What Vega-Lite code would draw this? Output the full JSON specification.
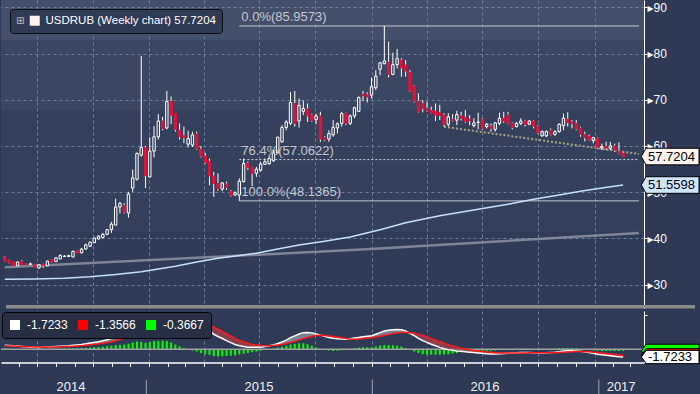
{
"$schema":"https://vega.github.io/schema/vega-lite/v6.json",
"background":"#2e3955",
"padding":0,
"spacing":0,
"config":{"view":{"stroke":null},"legend":{"labelFont":"Liberation Sans","titleFont":"DejaVu Sans"},"axis":{"labelFont":"Liberation Sans, DejaVu Sans"}},
"datasets":{
"w":[
{"date":"2014-05-09","o":36.0,"h":36.2,"l":34.9,"c":35.0,"m":0.89,"s":0.74,"hi":0.15},
{"date":"2014-05-16","o":35.3,"h":35.4,"l":34.6,"c":34.7,"m":0.82,"s":0.72,"hi":0.10},
{"date":"2014-05-23","o":34.9,"h":35.0,"l":34.0,"c":34.1,"m":0.75,"s":0.69,"hi":0.06},
{"date":"2014-05-30","o":34.1,"h":35.0,"l":34.0,"c":34.9,"m":0.68,"s":0.65,"hi":0.03},
{"date":"2014-06-06","o":35.0,"h":35.3,"l":34.3,"c":34.4,"m":0.60,"s":0.60,"hi":0.00},
{"date":"2014-06-13","o":34.5,"h":34.6,"l":34.2,"c":34.3,"m":0.52,"s":0.55,"hi":-0.03},
{"date":"2014-06-20","o":34.4,"h":34.8,"l":34.3,"c":34.5,"m":0.45,"s":0.51,"hi":-0.06},
{"date":"2014-06-27","o":34.4,"h":34.5,"l":33.6,"c":33.7,"m":0.40,"s":0.48,"hi":-0.08},
{"date":"2014-07-04","o":33.6,"h":34.4,"l":33.5,"c":34.3,"m":0.38,"s":0.46,"hi":-0.08},
{"date":"2014-07-11","o":34.4,"h":34.5,"l":33.6,"c":34.1,"m":0.40,"s":0.45,"hi":-0.05},
{"date":"2014-07-18","o":34.1,"h":35.2,"l":34.0,"c":35.1,"m":0.45,"s":0.45,"hi":0.00},
{"date":"2014-07-25","o":35.4,"h":35.5,"l":34.8,"c":34.9,"m":0.52,"s":0.47,"hi":0.05},
{"date":"2014-08-01","o":35.0,"h":35.9,"l":34.9,"c":35.8,"m":0.58,"s":0.50,"hi":0.08},
{"date":"2014-08-08","o":35.6,"h":36.6,"l":35.5,"c":36.3,"m":0.64,"s":0.53,"hi":0.11},
{"date":"2014-08-15","o":36.1,"h":36.4,"l":36.0,"c":36.2,"m":0.70,"s":0.57,"hi":0.13},
{"date":"2014-08-22","o":36.1,"h":36.5,"l":36.0,"c":36.3,"m":0.76,"s":0.61,"hi":0.15},
{"date":"2014-08-29","o":36.0,"h":37.4,"l":35.9,"c":37.2,"m":0.85,"s":0.66,"hi":0.19},
{"date":"2014-09-05","o":37.3,"h":37.4,"l":36.8,"c":36.9,"m":0.95,"s":0.72,"hi":0.23},
{"date":"2014-09-12","o":36.9,"h":37.9,"l":36.8,"c":37.7,"m":1.05,"s":0.78,"hi":0.27},
{"date":"2014-09-19","o":37.7,"h":38.9,"l":37.6,"c":38.6,"m":1.18,"s":0.86,"hi":0.32},
{"date":"2014-09-26","o":38.3,"h":39.3,"l":38.2,"c":39.2,"m":1.35,"s":0.96,"hi":0.39},
{"date":"2014-10-03","o":39.1,"h":40.2,"l":39.0,"c":40.1,"m":1.50,"s":1.07,"hi":0.43},
{"date":"2014-10-10","o":39.9,"h":40.7,"l":39.8,"c":40.5,"m":1.65,"s":1.18,"hi":0.47},
{"date":"2014-10-17","o":40.2,"h":41.2,"l":40.1,"c":40.9,"m":1.85,"s":1.32,"hi":0.53},
{"date":"2014-10-24","o":40.9,"h":42.0,"l":40.7,"c":41.9,"m":2.10,"s":1.47,"hi":0.63},
{"date":"2014-10-31","o":41.9,"h":43.6,"l":41.2,"c":43.1,"m":2.40,"s":1.65,"hi":0.75},
{"date":"2014-11-07","o":42.9,"h":48.6,"l":42.9,"c":46.8,"m":2.80,"s":1.88,"hi":0.92},
{"date":"2014-11-14","o":46.8,"h":47.9,"l":45.4,"c":47.6,"m":3.10,"s":2.12,"hi":0.98},
{"date":"2014-11-21","o":47.1,"h":47.6,"l":45.4,"c":45.7,"m":3.40,"s":2.38,"hi":1.02},
{"date":"2014-11-28","o":45.5,"h":50.1,"l":44.5,"c":49.6,"m":3.90,"s":2.68,"hi":1.22},
{"date":"2014-12-05","o":50.9,"h":54.9,"l":50.1,"c":53.1,"m":4.50,"s":3.03,"hi":1.47},
{"date":"2014-12-12","o":52.8,"h":58.6,"l":52.5,"c":58.4,"m":5.10,"s":3.43,"hi":1.67},
{"date":"2014-12-19","o":58.0,"h":79.5,"l":57.7,"c":59.7,"m":5.40,"s":3.82,"hi":1.58},
{"date":"2014-12-26","o":59.7,"h":60.0,"l":50.9,"c":53.6,"m":5.60,"s":4.18,"hi":1.42},
{"date":"2015-01-02","o":53.3,"h":61.9,"l":53.2,"c":58.9,"m":6.10,"s":4.50,"hi":1.60},
{"date":"2015-01-09","o":58.9,"h":64.3,"l":57.5,"c":62.0,"m":6.60,"s":4.82,"hi":1.78},
{"date":"2015-01-16","o":62.0,"h":66.9,"l":61.4,"c":65.4,"m":7.00,"s":5.13,"hi":1.87},
{"date":"2015-01-23","o":65.4,"h":66.3,"l":63.4,"c":63.8,"m":7.30,"s":5.42,"hi":1.88},
{"date":"2015-01-30","o":63.9,"h":71.9,"l":63.6,"c":69.6,"m":7.50,"s":5.70,"hi":1.80},
{"date":"2015-02-06","o":69.7,"h":70.7,"l":64.7,"c":66.7,"m":7.40,"s":5.94,"hi":1.46},
{"date":"2015-02-13","o":67.0,"h":67.0,"l":63.1,"c":63.6,"m":7.15,"s":6.10,"hi":1.05},
{"date":"2015-02-20","o":63.4,"h":64.9,"l":61.4,"c":62.0,"m":6.85,"s":6.20,"hi":0.65},
{"date":"2015-02-27","o":62.2,"h":64.2,"l":60.6,"c":61.8,"m":6.50,"s":6.25,"hi":0.25},
{"date":"2015-03-06","o":60.4,"h":63.3,"l":59.7,"c":61.6,"m":6.15,"s":6.20,"hi":-0.05},
{"date":"2015-03-13","o":60.2,"h":63.1,"l":59.8,"c":62.4,"m":5.80,"s":6.08,"hi":-0.28},
{"date":"2015-03-20","o":62.6,"h":63.1,"l":59.1,"c":59.3,"m":5.40,"s":5.92,"hi":-0.52},
{"date":"2015-03-27","o":59.3,"h":60.0,"l":57.5,"c":57.8,"m":4.90,"s":5.75,"hi":-0.85},
{"date":"2015-04-03","o":57.8,"h":58.5,"l":56.1,"c":56.4,"m":4.40,"s":5.50,"hi":-1.10},
{"date":"2015-04-10","o":56.7,"h":57.3,"l":51.5,"c":53.5,"m":3.90,"s":5.20,"hi":-1.30},
{"date":"2015-04-17","o":53.5,"h":54.4,"l":49.0,"c":51.9,"m":3.30,"s":4.85,"hi":-1.55},
{"date":"2015-04-24","o":51.9,"h":54.1,"l":50.3,"c":50.7,"m":2.80,"s":4.40,"hi":-1.60},
{"date":"2015-05-01","o":50.7,"h":52.2,"l":50.2,"c":52.0,"m":2.35,"s":3.90,"hi":-1.55},
{"date":"2015-05-08","o":51.8,"h":52.3,"l":50.5,"c":51.0,"m":1.90,"s":3.40,"hi":-1.50},
{"date":"2015-05-15","o":50.2,"h":50.5,"l":49.0,"c":49.2,"m":1.45,"s":2.90,"hi":-1.45},
{"date":"2015-05-22","o":49.4,"h":50.2,"l":49.2,"c":49.9,"m":1.05,"s":2.40,"hi":-1.35},
{"date":"2015-05-29","o":49.4,"h":53.0,"l":48.14,"c":52.4,"m":0.75,"s":1.95,"hi":-1.20},
{"date":"2015-06-05","o":52.3,"h":57.3,"l":52.1,"c":56.2,"m":0.60,"s":1.60,"hi":-1.00},
{"date":"2015-06-12","o":56.2,"h":56.6,"l":54.8,"c":55.3,"m":0.45,"s":1.30,"hi":-0.85},
{"date":"2015-06-19","o":55.3,"h":55.5,"l":51.3,"c":54.1,"m":0.40,"s":1.05,"hi":-0.65},
{"date":"2015-06-26","o":54.1,"h":55.5,"l":53.3,"c":55.0,"m":0.40,"s":0.90,"hi":-0.50},
{"date":"2015-07-03","o":54.8,"h":56.6,"l":54.4,"c":56.1,"m":0.45,"s":0.80,"hi":-0.35},
{"date":"2015-07-10","o":56.0,"h":57.3,"l":55.9,"c":56.6,"m":0.60,"s":0.75,"hi":-0.15},
{"date":"2015-07-17","o":56.2,"h":58.0,"l":55.9,"c":57.3,"m":0.75,"s":0.75,"hi":0.00},
{"date":"2015-07-24","o":56.8,"h":59.1,"l":56.6,"c":58.5,"m":0.95,"s":0.80,"hi":0.15},
{"date":"2015-07-31","o":58.5,"h":62.0,"l":58.4,"c":61.9,"m":1.25,"s":0.90,"hi":0.35},
{"date":"2015-08-07","o":60.9,"h":64.5,"l":60.7,"c":64.0,"m":1.60,"s":1.05,"hi":0.55},
{"date":"2015-08-14","o":64.0,"h":65.6,"l":63.4,"c":65.2,"m":2.00,"s":1.25,"hi":0.75},
{"date":"2015-08-21","o":64.9,"h":71.7,"l":64.5,"c":69.4,"m":2.55,"s":1.50,"hi":1.05},
{"date":"2015-08-28","o":69.2,"h":71.9,"l":64.2,"c":64.9,"m":2.95,"s":1.75,"hi":1.20},
{"date":"2015-09-04","o":65.4,"h":70.3,"l":64.0,"c":68.8,"m":3.35,"s":2.05,"hi":1.30},
{"date":"2015-09-11","o":67.5,"h":69.9,"l":66.7,"c":68.1,"m":3.65,"s":2.35,"hi":1.30},
{"date":"2015-09-18","o":68.0,"h":69.2,"l":65.2,"c":66.5,"m":3.70,"s":2.60,"hi":1.10},
{"date":"2015-09-25","o":66.7,"h":67.0,"l":65.2,"c":65.5,"m":3.60,"s":2.85,"hi":0.75},
{"date":"2015-10-02","o":65.7,"h":67.0,"l":64.7,"c":66.5,"m":3.35,"s":3.00,"hi":0.35},
{"date":"2015-10-09","o":66.5,"h":67.4,"l":60.9,"c":61.5,"m":3.10,"s":3.05,"hi":0.05},
{"date":"2015-10-16","o":61.8,"h":62.1,"l":61.0,"c":61.3,"m":2.85,"s":3.00,"hi":-0.15},
{"date":"2015-10-23","o":61.5,"h":63.4,"l":60.9,"c":62.7,"m":2.60,"s":2.90,"hi":-0.30},
{"date":"2015-10-30","o":62.4,"h":65.6,"l":62.0,"c":64.0,"m":2.40,"s":2.80,"hi":-0.40},
{"date":"2015-11-06","o":63.9,"h":65.1,"l":62.7,"c":64.8,"m":2.30,"s":2.65,"hi":-0.35},
{"date":"2015-11-13","o":64.9,"h":67.4,"l":64.2,"c":67.0,"m":2.25,"s":2.50,"hi":-0.25},
{"date":"2015-11-20","o":67.0,"h":67.2,"l":64.5,"c":64.9,"m":2.20,"s":2.35,"hi":-0.15},
{"date":"2015-11-27","o":64.9,"h":66.8,"l":64.5,"c":66.5,"m":2.30,"s":2.20,"hi":0.10},
{"date":"2015-12-04","o":66.5,"h":68.5,"l":66.0,"c":68.3,"m":2.45,"s":2.20,"hi":0.25},
{"date":"2015-12-11","o":67.5,"h":70.7,"l":67.4,"c":70.5,"m":2.60,"s":2.25,"hi":0.35},
{"date":"2015-12-18","o":71.2,"h":71.9,"l":69.7,"c":70.9,"m":2.75,"s":2.35,"hi":0.40},
{"date":"2015-12-25","o":71.1,"h":71.6,"l":69.4,"c":70.6,"m":2.85,"s":2.45,"hi":0.40},
{"date":"2016-01-01","o":71.0,"h":74.8,"l":70.3,"c":72.8,"m":2.95,"s":2.55,"hi":0.40},
{"date":"2016-01-08","o":72.6,"h":76.4,"l":72.1,"c":75.1,"m":3.30,"s":2.70,"hi":0.60},
{"date":"2016-01-15","o":76.6,"h":78.2,"l":75.3,"c":78.0,"m":3.65,"s":2.85,"hi":0.80},
{"date":"2016-01-22","o":77.8,"h":85.96,"l":77.65,"c":78.4,"m":4.00,"s":3.05,"hi":0.95},
{"date":"2016-01-29","o":78.1,"h":82.6,"l":74.8,"c":75.5,"m":4.20,"s":3.25,"hi":0.95},
{"date":"2016-02-05","o":75.5,"h":80.2,"l":75.3,"c":77.6,"m":4.30,"s":3.45,"hi":0.85},
{"date":"2016-02-12","o":77.6,"h":81.0,"l":76.8,"c":78.9,"m":4.35,"s":3.60,"hi":0.75},
{"date":"2016-02-19","o":78.6,"h":79.0,"l":75.0,"c":76.9,"m":4.30,"s":3.70,"hi":0.60},
{"date":"2016-02-26","o":77.5,"h":78.6,"l":75.0,"c":76.2,"m":4.00,"s":3.72,"hi":0.28},
{"date":"2016-03-04","o":75.9,"h":76.4,"l":71.7,"c":71.9,"m":3.50,"s":3.65,"hi":-0.15},
{"date":"2016-03-11","o":73.0,"h":73.2,"l":69.4,"c":69.7,"m":3.00,"s":3.50,"hi":-0.50},
{"date":"2016-03-18","o":69.7,"h":71.4,"l":67.2,"c":67.4,"m":2.40,"s":3.25,"hi":-0.85},
{"date":"2016-03-25","o":69.2,"h":69.9,"l":67.3,"c":68.1,"m":1.90,"s":3.00,"hi":-1.10},
{"date":"2016-04-01","o":68.1,"h":69.6,"l":67.4,"c":67.6,"m":1.50,"s":2.70,"hi":-1.20},
{"date":"2016-04-08","o":67.7,"h":68.5,"l":67.0,"c":67.1,"m":1.10,"s":2.35,"hi":-1.25},
{"date":"2016-04-15","o":67.5,"h":69.2,"l":65.4,"c":66.7,"m":0.75,"s":2.00,"hi":-1.25},
{"date":"2016-04-22","o":67.2,"h":68.9,"l":65.6,"c":66.6,"m":0.40,"s":1.65,"hi":-1.25},
{"date":"2016-04-29","o":66.7,"h":67.1,"l":64.2,"c":64.7,"m":0.10,"s":1.30,"hi":-1.20},
{"date":"2016-05-06","o":64.7,"h":67.1,"l":64.2,"c":66.3,"m":-0.10,"s":1.00,"hi":-1.10},
{"date":"2016-05-13","o":65.8,"h":66.9,"l":65.2,"c":65.4,"m":-0.25,"s":0.70,"hi":-0.95},
{"date":"2016-05-20","o":65.6,"h":67.6,"l":64.5,"c":66.8,"m":-0.38,"s":0.45,"hi":-0.83},
{"date":"2016-05-27","o":66.5,"h":67.4,"l":65.5,"c":66.0,"m":-0.48,"s":0.22,"hi":-0.70},
{"date":"2016-06-03","o":66.2,"h":67.8,"l":65.0,"c":65.3,"m":-0.58,"s":0.02,"hi":-0.60},
{"date":"2016-06-10","o":65.8,"h":66.7,"l":64.5,"c":65.5,"m":-0.66,"s":-0.15,"hi":-0.51},
{"date":"2016-06-17","o":64.4,"h":66.0,"l":64.0,"c":65.0,"m":-0.74,"s":-0.30,"hi":-0.44},
{"date":"2016-06-24","o":65.1,"h":67.2,"l":63.6,"c":65.2,"m":-0.82,"s":-0.42,"hi":-0.40},
{"date":"2016-07-01","o":65.8,"h":66.0,"l":63.4,"c":63.7,"m":-0.92,"s":-0.53,"hi":-0.39},
{"date":"2016-07-08","o":64.2,"h":65.0,"l":63.8,"c":64.7,"m":-1.00,"s":-0.62,"hi":-0.38},
{"date":"2016-07-15","o":64.3,"h":64.9,"l":63.1,"c":63.8,"m":-1.05,"s":-0.70,"hi":-0.35},
{"date":"2016-07-22","o":63.6,"h":65.2,"l":63.1,"c":65.0,"m":-1.05,"s":-0.77,"hi":-0.28},
{"date":"2016-07-29","o":64.9,"h":67.2,"l":64.5,"c":66.0,"m":-1.00,"s":-0.82,"hi":-0.18},
{"date":"2016-08-05","o":66.0,"h":67.4,"l":65.0,"c":65.4,"m":-0.95,"s":-0.85,"hi":-0.10},
{"date":"2016-08-12","o":66.7,"h":67.4,"l":64.7,"c":64.9,"m":-0.90,"s":-0.87,"hi":-0.03},
{"date":"2016-08-19","o":64.9,"h":65.1,"l":63.6,"c":64.0,"m":-0.85,"s":-0.87,"hi":0.02},
{"date":"2016-08-26","o":64.2,"h":65.2,"l":64.0,"c":64.9,"m":-0.80,"s":-0.86,"hi":0.06},
{"date":"2016-09-02","o":64.9,"h":66.0,"l":64.5,"c":65.4,"m":-0.75,"s":-0.84,"hi":0.09},
{"date":"2016-09-09","o":65.4,"h":65.6,"l":64.2,"c":64.7,"m":-0.72,"s":-0.82,"hi":0.10},
{"date":"2016-09-16","o":64.7,"h":65.6,"l":64.5,"c":65.4,"m":-0.73,"s":-0.80,"hi":0.07},
{"date":"2016-09-23","o":65.4,"h":65.6,"l":63.8,"c":64.3,"m":-0.76,"s":-0.80,"hi":0.04},
{"date":"2016-09-30","o":64.2,"h":64.5,"l":62.7,"c":62.9,"m":-0.80,"s":-0.80,"hi":0.00},
{"date":"2016-10-07","o":62.2,"h":63.4,"l":62.0,"c":63.1,"m":-0.82,"s":-0.80,"hi":-0.02},
{"date":"2016-10-14","o":62.2,"h":63.4,"l":61.9,"c":63.1,"m":-0.80,"s":-0.80,"hi":0.00},
{"date":"2016-10-21","o":63.4,"h":63.8,"l":62.3,"c":62.5,"m":-0.75,"s":-0.79,"hi":0.04},
{"date":"2016-10-28","o":62.5,"h":63.4,"l":62.2,"c":63.1,"m":-0.68,"s":-0.77,"hi":0.09},
{"date":"2016-11-04","o":63.1,"h":64.9,"l":62.9,"c":64.7,"m":-0.55,"s":-0.73,"hi":0.18},
{"date":"2016-11-11","o":64.4,"h":67.0,"l":63.4,"c":66.0,"m":-0.40,"s":-0.67,"hi":0.27},
{"date":"2016-11-18","o":65.8,"h":67.3,"l":64.2,"c":65.1,"m":-0.33,"s":-0.61,"hi":0.28},
{"date":"2016-11-25","o":65.2,"h":65.6,"l":63.8,"c":64.9,"m":-0.33,"s":-0.56,"hi":0.23},
{"date":"2016-12-02","o":64.9,"h":65.6,"l":63.4,"c":63.7,"m":-0.38,"s":-0.53,"hi":0.15},
{"date":"2016-12-09","o":63.9,"h":64.2,"l":62.0,"c":62.5,"m":-0.48,"s":-0.52,"hi":0.04},
{"date":"2016-12-16","o":62.5,"h":63.1,"l":61.0,"c":61.8,"m":-0.60,"s":-0.54,"hi":-0.06},
{"date":"2016-12-23","o":62.1,"h":62.5,"l":61.1,"c":61.3,"m":-0.75,"s":-0.58,"hi":-0.17},
{"date":"2016-12-30","o":61.2,"h":62.0,"l":60.6,"c":61.8,"m":-0.90,"s":-0.65,"hi":-0.25},
{"date":"2017-01-06","o":61.6,"h":61.8,"l":59.3,"c":59.6,"m":-1.10,"s":-0.75,"hi":-0.35},
{"date":"2017-01-13","o":59.6,"h":60.5,"l":59.1,"c":59.9,"m":-1.25,"s":-0.85,"hi":-0.40},
{"date":"2017-01-20","o":59.9,"h":60.9,"l":59.1,"c":59.6,"m":-1.35,"s":-0.95,"hi":-0.40},
{"date":"2017-01-27","o":59.5,"h":60.9,"l":59.1,"c":60.0,"m":-1.45,"s":-1.05,"hi":-0.40},
{"date":"2017-02-03","o":60.0,"h":60.5,"l":58.75,"c":59.1,"m":-1.55,"s":-1.15,"hi":-0.40},
{"date":"2017-02-10","o":58.9,"h":60.8,"l":58.2,"c":58.4,"m":-1.65,"s":-1.26,"hi":-0.39},
{"date":"2017-02-17","o":58.4,"h":58.6,"l":57.6,"c":57.7204,"m":-1.7233,"s":-1.3566,"hi":-0.3667}
],
"ma":[{"date":"2014-05-09","v":31.15},{"date":"2014-06-27","v":31.25},{"date":"2014-08-15","v":31.4},{"date":"2014-09-26","v":31.7},{"date":"2014-11-07","v":32.2},{"date":"2014-12-19","v":32.8},{"date":"2015-01-16","v":33.4},{"date":"2015-02-13","v":34.0},{"date":"2015-03-20","v":34.9},{"date":"2015-04-24","v":35.7},{"date":"2015-05-29","v":36.3},{"date":"2015-06-26","v":36.8},{"date":"2015-07-31","v":37.7},{"date":"2015-09-04","v":38.6},{"date":"2015-10-16","v":39.4},{"date":"2015-11-27","v":40.3},{"date":"2016-01-15","v":41.9},{"date":"2016-02-26","v":43.4},{"date":"2016-04-22","v":44.9},{"date":"2016-06-24","v":46.3},{"date":"2016-08-12","v":47.4},{"date":"2016-09-23","v":48.5},{"date":"2016-11-04","v":49.4},{"date":"2016-12-09","v":50.2},{"date":"2017-01-13","v":50.9},{"date":"2017-02-17","v":51.56}],
"lt":[{"date":"2014-05-09","v":33.75},{"date":"2015-12-31","v":37.7},{"date":"2017-03-15","v":41.2}],
"fib":[{"label":"0.0%(85.9573)","level":85.9573,"start":"2015-05-29"},{"label":"76.4%(57.0622)","level":57.0622,"start":"2015-05-29"},{"label":"100.0%(48.1365)","level":48.1365,"start":"2015-05-29"}],
"trend":[{"date":"2016-04-29","v":64.17},{"date":"2017-03-15","v":58.27}],
"lastMain":[{"label":"57.7204","v":57.7204,"kind":"last"},{"label":"51.5598","v":51.5598,"kind":"ma"}],
"lastMacd":[{"label":"-0.3667","v":-0.3667,"kind":"hist"},{"label":"-1.3566","v":-1.3566,"kind":"signal"},{"label":"-1.7233","v":-1.7233,"kind":"macd"}],
"years":[{"t":"2014","d":"2014-09-01"},{"t":"2015","d":"2015-07-02"},{"t":"2016","d":"2016-07-01"},{"t":"2017","d":"2017-02-06"}],
"dividers":[{"d":"2015-01-01"},{"d":"2016-01-01"},{"d":"2017-01-01"}]
},
"resolve":{"scale":{"x":"independent","y":"independent","color":"independent","fill":"independent"},"legend":{"color":"independent"}},
"vconcat":[
{
"width":643,"height":308.5,
"view":{"stroke":null,"fill":{"gradient":"linear","x1":0,"y1":0,"x2":0,"y2":1,"stops":[{"offset":0,"color":"#434f6b"},{"offset":0.13,"color":"#434f6b"},{"offset":0.13,"color":"#3a4662"},{"offset":0.357,"color":"#3a4662"},{"offset":0.357,"color":"#35405c"},{"offset":0.752,"color":"#35405c"},{"offset":0.752,"color":"#303b57"},{"offset":1,"color":"#303b57"}]}},
"layer":[
{"data":{"name":"fib"},"mark":{"type":"rule","color":"#d4d7de","strokeWidth":1,"clip":true},
 "encoding":{
  "x":{"field":"start","type":"temporal","scale":{"type":"utc","domain":[{"year":2014,"month":5,"date":11,"utc":true},{"year":2017,"month":3,"date":15,"utc":true}]},
       "axis":{"orient":"bottom","labels":false,"ticks":false,"domain":false,"title":null,"tickCount":{"interval":"month","step":3},"grid":true,"gridColor":"#6a809f","gridDash":[3,3],"gridWidth":1}},
  "x2":{"datum":{"year":2017,"month":3,"date":15,"utc":true}},
  "y":{"field":"level","type":"quantitative","scale":{"domain":[24.85,91.58],"nice":false,"zero":false},
       "axis":{"orient":"right","title":null,"values":[30,35,40,45,50,55,60,65,70,75,80,85,90],"labelExpr":"datum.value % 10 === 0 ? '▸' + datum.label : ''","labelOverlap":false,"domainColor":"#ffffff","domainWidth":1,"tickColor":"#ffffff","tickSize":3,"labelColor":"#ffffff","labelFontSize":12,"labelPadding":0,"grid":true,"gridColor":"#6a809f","gridDash":[3,3],"gridOpacity":{"condition":{"test":"datum.value % 10 !== 0","value":0},"value":1}}},
  "strokeDash":{"field":"label","type":"nominal","scale":{"domain":["0.0%(85.9573)","76.4%(57.0622)","100.0%(48.1365)"],"range":[[1,0],[2,2],[1,0]]},"legend":null}}},
{"data":{"name":"trend"},"mark":{"type":"line","color":"#aaa682","strokeWidth":2,"strokeDash":[2,2],"clip":true},
 "encoding":{"x":{"field":"date","type":"temporal","scale":{"type":"utc","domain":[{"year":2014,"month":5,"date":11,"utc":true},{"year":2017,"month":3,"date":15,"utc":true}]}},
  "y":{"field":"v","type":"quantitative","scale":{"domain":[24.85,91.58],"nice":false,"zero":false}}}},
{"data":{"name":"lt"},"mark":{"type":"line","color":"#9399a7","strokeWidth":2.5,"opacity":0.8,"clip":true},
 "encoding":{"x":{"field":"date","type":"temporal","scale":{"type":"utc","domain":[{"year":2014,"month":5,"date":11,"utc":true},{"year":2017,"month":3,"date":15,"utc":true}]}},
  "y":{"field":"v","type":"quantitative","scale":{"domain":[24.85,91.58],"nice":false,"zero":false}}}},
{"data":{"name":"ma"},"mark":{"type":"line","color":"#c6e0fb","strokeWidth":1.5,"clip":true},
 "encoding":{"x":{"field":"date","type":"temporal","scale":{"type":"utc","domain":[{"year":2014,"month":5,"date":11,"utc":true},{"year":2017,"month":3,"date":15,"utc":true}]}},
  "y":{"field":"v","type":"quantitative","scale":{"domain":[24.85,91.58],"nice":false,"zero":false}}}},
{"data":{"name":"w"},"mark":{"type":"rule","strokeWidth":1,"clip":true},
 "encoding":{"x":{"field":"date","type":"temporal","scale":{"type":"utc","domain":[{"year":2014,"month":5,"date":11,"utc":true},{"year":2017,"month":3,"date":15,"utc":true}]}},
  "y":{"field":"h","type":"quantitative","scale":{"domain":[24.85,91.58],"nice":false,"zero":false}},
  "y2":{"field":"l"},
  "color":{"datum":"USDRUB (Weekly chart) 57.7204","scale":{"range":["#ffffff"]},
   "legend":{"orient":"top-left","offset":9,"title":"⊞","titleOrient":"left","titleColor":"#a4a8b2","titleFontSize":10,"titlePadding":4,"symbolType":"square","symbolSize":100,"symbolFillColor":"#fff1ee","symbolStrokeColor":"#fff1ee","symbolStrokeWidth":0,"fillColor":"#2f3a55","strokeColor":"#0a0c14","cornerRadius":3,"padding":6,"labelColor":"#ffffff","labelFontSize":11.5,"labelLimit":300,"labelOffset":5}}}},
{"data":{"name":"w"},"mark":{"type":"bar","width":2.4,"strokeWidth":1,"clip":true},
 "encoding":{"x":{"field":"date","type":"temporal","scale":{"type":"utc","domain":[{"year":2014,"month":5,"date":11,"utc":true},{"year":2017,"month":3,"date":15,"utc":true}]}},
  "y":{"field":"o","type":"quantitative","scale":{"domain":[24.85,91.58],"nice":false,"zero":false}},
  "y2":{"field":"c"},
  "fill":{"condition":[{"test":"datum.c < datum.o","value":"#dc143c"},{"test":"datum.c > 67.8","value":"#3a4662"},{"test":"datum.c > 41.4","value":"#35405c"}],"value":"#303b57"},
  "stroke":{"condition":{"test":"datum.c < datum.o","value":"#dc143c"},"value":"#ffffff"}}},
{"data":{"name":"fib"},"mark":{"type":"text","align":"left","baseline":"bottom","dx":2,"dy":-2,"fontSize":13,"font":"Liberation Sans","color":"#c3c7cf"},
 "encoding":{"x":{"field":"start","type":"temporal","scale":{"type":"utc","domain":[{"year":2014,"month":5,"date":11,"utc":true},{"year":2017,"month":3,"date":15,"utc":true}]}},
  "y":{"field":"level","type":"quantitative","scale":{"domain":[24.85,91.58],"nice":false,"zero":false}},
  "text":{"field":"label"}}},
{"data":{"name":"lastMain"},"mark":{"type":"point","shape":"M 0.23 0 L 0.7 -0.83 L 6 -0.83 L 6 0.83 L 0.7 0.83 Z","size":400,"filled":true,"opacity":1,"stroke":"#000000","strokeWidth":1,"clip":false},
 "encoding":{"x":{"datum":{"year":2017,"month":3,"date":15,"utc":true},"type":"temporal","scale":{"type":"utc","domain":[{"year":2014,"month":5,"date":11,"utc":true},{"year":2017,"month":3,"date":15,"utc":true}]}},
  "y":{"field":"v","type":"quantitative","scale":{"domain":[24.85,91.58],"nice":false,"zero":false}},
  "fill":{"field":"kind","type":"nominal","scale":{"domain":["last","ma"],"range":["#fff4f0","#cfe5ff"]},"legend":null}}},
{"data":{"name":"lastMain"},"mark":{"type":"text","align":"left","baseline":"middle","dx":9,"fontSize":13,"font":"Liberation Sans","color":"#000000","clip":false},
 "encoding":{"x":{"datum":{"year":2017,"month":3,"date":15,"utc":true},"type":"temporal","scale":{"type":"utc","domain":[{"year":2014,"month":5,"date":11,"utc":true},{"year":2017,"month":3,"date":15,"utc":true}]}},
  "y":{"field":"v","type":"quantitative","scale":{"domain":[24.85,91.58],"nice":false,"zero":false}},
  "text":{"field":"label"}}},
{"data":{"values":[{}]},"mark":{"type":"rule","color":"#8b8b8b","strokeWidth":3.5,"clip":false},
 "encoding":{"x":{"datum":{"year":2014,"month":5,"date":11,"utc":true},"type":"temporal","scale":{"type":"utc","domain":[{"year":2014,"month":5,"date":11,"utc":true},{"year":2017,"month":3,"date":15,"utc":true}]}},
  "x2":{"datum":{"year":2017,"month":6,"date":15,"utc":true}},
  "y":{"datum":25.23,"type":"quantitative","scale":{"domain":[24.85,91.58],"nice":false,"zero":false}}}}
]
},
{
"width":643,"height":51.5,
"view":{"stroke":null,"fill":"#2f3a56"},
"layer":[
{"data":{"name":"w"},"mark":{"type":"bar","width":2,"clip":true},
 "encoding":{
  "x":{"field":"date","type":"temporal","scale":{"type":"utc","domain":[{"year":2014,"month":5,"date":11,"utc":true},{"year":2017,"month":3,"date":15,"utc":true}]},
       "axis":{"orient":"bottom","labels":false,"title":null,"domainColor":"#ffffff","domainWidth":1.5,"tickColor":"#ffffff","tickSize":4,"tickCount":{"interval":"month","step":1},"grid":true,"gridColor":"#6a809f","gridDash":[3,3],"gridOpacity":{"condition":{"test":"utcmonth(datum.value) % 3 !== 0","value":0},"value":1}}},
  "y":{"field":"hi","type":"quantitative","scale":{"domain":[-2.94,8.43],"nice":false,"zero":false},
       "axis":{"orient":"right","title":null,"values":[-2.5,0,2.5,5,7.5],"labelExpr":"datum.value === 5 ? '▸5' : ''","labelOverlap":false,"domainColor":"#ffffff","tickColor":"#ffffff","tickSize":3,"labelColor":"#ffffff","labelFontSize":12,"labelPadding":0,"grid":true,"gridColor":"#6a809f","gridDash":[3,3],"gridOpacity":{"condition":{"test":"datum.value !== 5","value":0},"value":1}}},
  "y2":{"datum":0},
  "color":{"datum":"-0.3667","scale":{"domain":["-1.7233","-1.3566","-0.3667"],"range":["#ffffff","#ff0000","#00ff00"]},
   "legend":{"orient":"top-left","offset":1,"direction":"horizontal","title":null,"symbolType":"square","symbolSize":100,"symbolStrokeWidth":0,"fillColor":"#262f44","strokeColor":"#000000","cornerRadius":3,"padding":7,"labelColor":"#ffffff","labelFontSize":12,"labelOffset":6,"columnPadding":9}}}},
{"data":{"values":[{}]},"mark":{"type":"rule","color":"#a0a0a0","strokeWidth":1.5},
 "encoding":{"y":{"datum":0,"type":"quantitative","scale":{"domain":[-2.94,8.43],"nice":false,"zero":false}}}},
{"data":{"name":"w"},"transform":[{"filter":{"field":"date","range":[{"year":2014,"month":7,"date":18,"utc":true},{"year":2015,"month":3,"date":6,"utc":true}]}}],
 "mark":{"type":"area","color":"#8f93a2","opacity":0.8,"clip":true},
 "encoding":{"x":{"field":"date","type":"temporal","scale":{"type":"utc","domain":[{"year":2014,"month":5,"date":11,"utc":true},{"year":2017,"month":3,"date":15,"utc":true}]}},"y":{"field":"m","type":"quantitative","scale":{"domain":[-2.94,8.43],"nice":false,"zero":false}},"y2":{"field":"s"}}},
{"data":{"name":"w"},"transform":[{"filter":{"field":"date","range":[{"year":2015,"month":7,"date":17,"utc":true},{"year":2015,"month":10,"date":16,"utc":true}]}}],
 "mark":{"type":"area","color":"#8f93a2","opacity":0.8,"clip":true},
 "encoding":{"x":{"field":"date","type":"temporal","scale":{"type":"utc","domain":[{"year":2014,"month":5,"date":11,"utc":true},{"year":2017,"month":3,"date":15,"utc":true}]}},"y":{"field":"m","type":"quantitative","scale":{"domain":[-2.94,8.43],"nice":false,"zero":false}},"y2":{"field":"s"}}},
{"data":{"name":"w"},"transform":[{"filter":{"field":"date","range":[{"year":2015,"month":11,"date":20,"utc":true},{"year":2016,"month":3,"date":4,"utc":true}]}}],
 "mark":{"type":"area","color":"#8f93a2","opacity":0.8,"clip":true},
 "encoding":{"x":{"field":"date","type":"temporal","scale":{"type":"utc","domain":[{"year":2014,"month":5,"date":11,"utc":true},{"year":2017,"month":3,"date":15,"utc":true}]}},"y":{"field":"m","type":"quantitative","scale":{"domain":[-2.94,8.43],"nice":false,"zero":false}},"y2":{"field":"s"}}},
{"data":{"name":"w"},"transform":[{"filter":{"field":"date","range":[{"year":2016,"month":8,"date":19,"utc":true},{"year":2016,"month":12,"date":16,"utc":true}]}}],
 "mark":{"type":"area","color":"#8f93a2","opacity":0.8,"clip":true},
 "encoding":{"x":{"field":"date","type":"temporal","scale":{"type":"utc","domain":[{"year":2014,"month":5,"date":11,"utc":true},{"year":2017,"month":3,"date":15,"utc":true}]}},"y":{"field":"m","type":"quantitative","scale":{"domain":[-2.94,8.43],"nice":false,"zero":false}},"y2":{"field":"s"}}},
{"data":{"name":"w"},"transform":[{"filter":{"field":"date","range":[{"year":2015,"month":2,"date":27,"utc":true},{"year":2015,"month":7,"date":17,"utc":true}]}}],
 "mark":{"type":"area","color":"#a3404f","opacity":0.8,"clip":true},
 "encoding":{"x":{"field":"date","type":"temporal","scale":{"type":"utc","domain":[{"year":2014,"month":5,"date":11,"utc":true},{"year":2017,"month":3,"date":15,"utc":true}]}},"y":{"field":"m","type":"quantitative","scale":{"domain":[-2.94,8.43],"nice":false,"zero":false}},"y2":{"field":"s"}}},
{"data":{"name":"w"},"transform":[{"filter":{"field":"date","range":[{"year":2015,"month":10,"date":9,"utc":true},{"year":2015,"month":11,"date":27,"utc":true}]}}],
 "mark":{"type":"area","color":"#a3404f","opacity":0.8,"clip":true},
 "encoding":{"x":{"field":"date","type":"temporal","scale":{"type":"utc","domain":[{"year":2014,"month":5,"date":11,"utc":true},{"year":2017,"month":3,"date":15,"utc":true}]}},"y":{"field":"m","type":"quantitative","scale":{"domain":[-2.94,8.43],"nice":false,"zero":false}},"y2":{"field":"s"}}},
{"data":{"name":"w"},"transform":[{"filter":{"field":"date","range":[{"year":2016,"month":2,"date":26,"utc":true},{"year":2016,"month":8,"date":19,"utc":true}]}}],
 "mark":{"type":"area","color":"#a3404f","opacity":0.8,"clip":true},
 "encoding":{"x":{"field":"date","type":"temporal","scale":{"type":"utc","domain":[{"year":2014,"month":5,"date":11,"utc":true},{"year":2017,"month":3,"date":15,"utc":true}]}},"y":{"field":"m","type":"quantitative","scale":{"domain":[-2.94,8.43],"nice":false,"zero":false}},"y2":{"field":"s"}}},
{"data":{"name":"w"},"transform":[{"filter":{"field":"date","range":[{"year":2016,"month":12,"date":9,"utc":true},{"year":2017,"month":2,"date":17,"utc":true}]}}],
 "mark":{"type":"area","color":"#a3404f","opacity":0.8,"clip":true},
 "encoding":{"x":{"field":"date","type":"temporal","scale":{"type":"utc","domain":[{"year":2014,"month":5,"date":11,"utc":true},{"year":2017,"month":3,"date":15,"utc":true}]}},"y":{"field":"m","type":"quantitative","scale":{"domain":[-2.94,8.43],"nice":false,"zero":false}},"y2":{"field":"s"}}},
{"data":{"name":"w"},"mark":{"type":"line","color":"#ffffff","strokeWidth":1.5,"clip":true},
 "encoding":{"x":{"field":"date","type":"temporal","scale":{"type":"utc","domain":[{"year":2014,"month":5,"date":11,"utc":true},{"year":2017,"month":3,"date":15,"utc":true}]}},"y":{"field":"m","type":"quantitative","scale":{"domain":[-2.94,8.43],"nice":false,"zero":false}}}},
{"data":{"name":"w"},"mark":{"type":"line","color":"#ff1a1a","strokeWidth":1.5,"clip":true},
 "encoding":{"x":{"field":"date","type":"temporal","scale":{"type":"utc","domain":[{"year":2014,"month":5,"date":11,"utc":true},{"year":2017,"month":3,"date":15,"utc":true}]}},"y":{"field":"s","type":"quantitative","scale":{"domain":[-2.94,8.43],"nice":false,"zero":false}}}},
{"data":{"name":"lastMacd"},"mark":{"type":"point","shape":"M 0.3 0 L 0.9 -0.83 L 7.5 -0.83 L 7.5 0.83 L 0.9 0.83 Z","size":256,"filled":true,"opacity":1,"stroke":"#000000","strokeWidth":1,"clip":false},
 "encoding":{"x":{"datum":{"year":2017,"month":3,"date":15,"utc":true},"type":"temporal","scale":{"type":"utc","domain":[{"year":2014,"month":5,"date":11,"utc":true},{"year":2017,"month":3,"date":15,"utc":true}]}},
  "y":{"field":"v","type":"quantitative","scale":{"domain":[-2.94,8.43],"nice":false,"zero":false}},
  "fill":{"field":"kind","type":"nominal","scale":{"domain":["hist","signal","macd"],"range":["#00ff00","#ff0000","#ffffff"]},"legend":null}}},
{"data":{"name":"lastMacd"},"transform":[{"filter":"datum.kind === 'macd'"}],"mark":{"type":"text","align":"left","baseline":"middle","dx":9,"fontSize":13,"font":"Liberation Sans","color":"#000000","clip":false},
 "encoding":{"x":{"datum":{"year":2017,"month":3,"date":15,"utc":true},"type":"temporal","scale":{"type":"utc","domain":[{"year":2014,"month":5,"date":11,"utc":true},{"year":2017,"month":3,"date":15,"utc":true}]}},
  "y":{"field":"v","type":"quantitative","scale":{"domain":[-2.94,8.43],"nice":false,"zero":false}},
  "text":{"field":"label"}}}
]
},
{
"width":643,"height":30,
"layer":[
{"data":{"name":"dividers"},"mark":{"type":"rule","color":"#8d93a1","strokeWidth":1.2},
 "encoding":{"x":{"field":"d","type":"temporal","scale":{"type":"utc","domain":[{"year":2014,"month":5,"date":11,"utc":true},{"year":2017,"month":3,"date":15,"utc":true}]},"axis":null},
  "y":{"datum":0.58,"type":"quantitative","scale":{"domain":[0,1],"nice":false,"zero":false},"axis":null},"y2":{"datum":0}}},
{"data":{"name":"years"},"mark":{"type":"text","align":"center","baseline":"middle","fontSize":13,"font":"Liberation Sans","color":"#f0f0f0"},
 "encoding":{"x":{"field":"d","type":"temporal","scale":{"type":"utc","domain":[{"year":2014,"month":5,"date":11,"utc":true},{"year":2017,"month":3,"date":15,"utc":true}]},"axis":null},
  "y":{"datum":0.32,"type":"quantitative","scale":{"domain":[0,1],"nice":false,"zero":false},"axis":null},
  "text":{"field":"t"}}}
]
}
]
}
